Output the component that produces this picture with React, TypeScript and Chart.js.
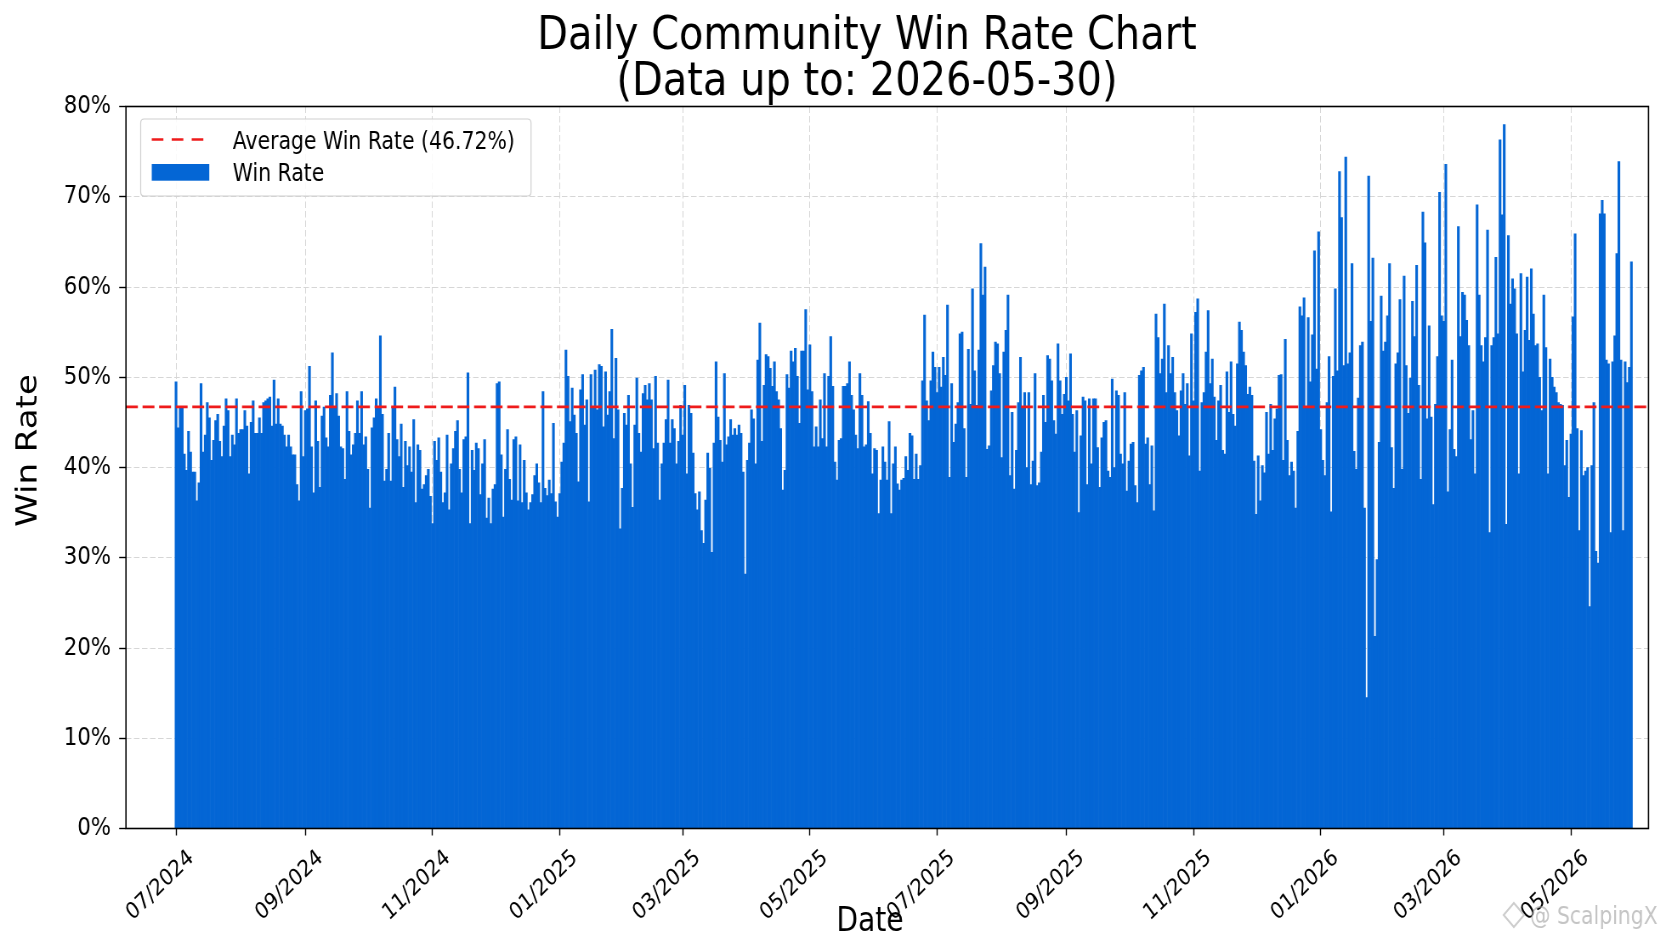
import React, { useEffect, useRef } from 'react';
import { Chart, registerables } from 'chart.js';

Chart.register(...registerables);

// ---------------- data ----------------
const START_DATE = '2024-07-01';
const DATA_END = '2026-05-30';
const AVERAGE_RATE = 46.72;

// daily win rate (%), one value per day from START_DATE
// 2024-07-01 .. 2024-09-26
const winRateJul2024 = [
  49.5, 44.4, 46.7, 46.7, 41.5, 39.7, 44, 41.7, 39.5, 39.5,
  36.3, 38.3, 49.3, 41.7, 43.6, 47.2, 45.5, 40.8, 43, 45.2,
  45.9, 42.9, 41.2, 44.6, 47.6, 46.3, 41.2, 43.6, 42.5, 47.6,
  43.8, 44.2, 44.2, 46.3, 44.6, 39.3, 45, 47.4, 43.8, 43.8,
  45.5, 43.8, 47.2, 47.4, 47.6, 47.8, 44.6, 49.7, 44.8, 47.6,
  44.8, 44.6, 43.6, 42.3, 43.6, 42.3, 41.4, 41.4, 38.1, 36.3,
  48.4, 41.2, 46.3, 46.5, 51.2, 42.3, 37.2, 47.4, 42.9, 37.8,
  45.7, 46.7, 43.3, 42.3, 48, 52.7, 46.7, 48.2, 45.7, 42.3,
  42.1, 38.7, 48.4, 44, 41.4, 42.5, 43.8, 47.4,
];
// 2024-09-27 .. 2024-12-24
const winRateSep2024 = [
  43.8, 48.4, 42.5, 43.4, 39.8, 35.5, 44.4, 45.5, 47.6, 46.7,
  54.6, 45.9, 38.5, 39.8, 43.8, 38.5, 46.7, 48.9, 43.1, 41.2,
  44.8, 37.8, 42.9, 40.2, 42.3, 39.5, 45.3, 36.1, 42.5, 41.9,
  37.6, 38.1, 39.1, 39.8, 36.8, 33.8, 42.9, 40.8, 43.3, 39.5,
  36.1, 37.2, 43.6, 35.3, 40.4, 42.1, 44, 45.2, 39.8, 37.2,
  43.1, 43.4, 50.5, 33.8, 41.9, 39.7, 42.7, 42.1, 37, 40.4,
  43.1, 34.4, 36.6, 33.8, 37.6, 38.1, 49.3, 49.5, 41.4, 34.5,
  39.8, 44.2, 38.7, 36.4, 43.1, 43.4, 36.3, 42.5, 36.1, 40.8,
  37.2, 35.3, 36.1, 37, 39.1, 40.4, 38.3, 36.1, 48.4,
];
// 2024-12-25 .. 2025-03-21
const winRateDec2024 = [
  37.7, 36.9, 38.6, 37.1, 44.9, 36.2, 34.5, 37.1, 40.6, 42.7,
  53, 50.1, 45.1, 48.8, 45.8, 43.8, 38.4, 48.6, 50.3, 44.7,
  47.5, 36.2, 50.3, 46.6, 50.8, 46.4, 51.4, 51.2, 44.5, 50.6,
  45.8, 48.4, 55.3, 43.2, 52.1, 46.4, 33.2, 37.7, 46, 44.7,
  48, 40.4, 35.6, 44.7, 49.9, 43.8, 41.7, 48.2, 49.1, 47.5,
  49.3, 47.5, 42.1, 50.1, 42.7, 36.4, 40.4, 42.7, 45.3, 49.7,
  42.7, 45.3, 44.3, 40.4, 42.9, 46.9, 43.6, 49.1, 39.3, 46.9,
  46, 41.6, 37.1, 35.3, 37.3, 33, 31.6, 36.4, 41.6, 39.9,
  30.6, 42.7, 51.7, 45.6, 43, 40.6, 50.4,
];
// 2025-03-22 .. 2025-06-18
const winRateMar2025 = [
  42.5, 43.4, 45.3, 43.6, 44.3, 43.6, 44.7, 43.8, 39.5, 28.2,
  40.8, 42.7, 46.4, 45.4, 40.4, 51.9, 56, 42.9, 49.1, 52.5,
  52.3, 51, 49, 51.7, 48.4, 47.5, 44.3, 37.5, 39.7, 50.3,
  48.8, 52.9, 51.7, 53.2, 50.1, 44.9, 52.9, 52.9, 57.5, 48.6,
  53.6, 48.4, 42.3, 44.5, 42.3, 47.5, 43.2, 50.4, 42.3, 50.1,
  54.5, 49, 40.6, 38.6, 43, 43.2, 49, 49, 49.3, 51.7,
  48, 46.4, 43.6, 42.1, 50.4, 48, 42.3, 42.5, 47.3, 43.8,
  39.3, 42.1, 41.9, 34.9, 38.6, 42.3, 40.6, 38.6, 45.1, 34.9,
  40.4, 42.3, 38.2, 37.5, 38.6, 38.8, 41.2, 39.7, 43.8,
];
// 2025-06-19 .. 2025-09-14
const winRateJun2025 = [
  43.5, 38.7, 41.5, 38.7, 40.2, 49.6, 56.9, 47.4, 45.2, 49.6,
  52.8, 51.1, 48.3, 51.1, 48.9, 52.2, 50.2, 58, 38.9, 49.3,
  42.8, 44.8, 47.2, 54.8, 55, 44.3, 38.9, 53.1, 47, 59.8,
  50.7, 46.9, 53, 64.8, 59.1, 62.2, 42, 42.4, 48.5, 51.3,
  53.9, 53.7, 50.4, 41.1, 52.8, 55.2, 59.1, 39.1, 46.1, 37.6,
  41.9, 47.2, 52.2, 46.7, 48.3, 40, 48.3, 38.1, 40.7, 50.4,
  38, 38.3, 41.7, 48, 45, 52.4, 52, 49.6, 45.2, 43.7,
  53.7, 49.6, 45.9, 48.1, 50, 47.4, 52.6, 45.9, 41.7, 46.3,
  35, 43.5, 47.8, 47.4, 38.1, 47.6, 40.4, 47.6,
];
// 2025-09-15 .. 2025-12-12
const winRateSep2025 = [
  47.6, 42.2, 37.8, 43.3, 45, 45.2, 39.6, 38.9, 49.8, 40,
  48.5, 48, 41.5, 40.4, 48.3, 37.4, 40.7, 42.6, 42.8, 38,
  36.1, 50.2, 50.7, 51.1, 42.6, 43.3, 38.1, 42.4, 35.2, 57,
  54.4, 50.4, 52, 58.1, 48.3, 53.5, 50.4, 52.2, 48.3, 46.3,
  43.5, 48.5, 50.4, 47, 49.3, 41.3, 54.8, 47.4, 57.2, 58.7,
  39.6, 47.2, 48.3, 52.8, 57.4, 49.3, 52, 47.8, 43, 47.4,
  49.1, 41.9, 41.5, 50.6, 46.1, 51.7, 45.9, 44.6, 51.5, 56.1,
  55.2, 52.8, 51.3, 48.1, 48.9, 48, 40.7, 34.8, 41.3, 36.3,
  40.2, 39.4, 46.1, 41.5, 47, 41.9, 45.4, 46.5, 50.2,
];
// 2025-12-13 .. 2026-03-10
const winRateDec2025 = [
  50.3, 40.8, 54.2, 43, 39.1, 40.6, 39.6, 35.5, 44, 57.8,
  56.8, 58.8, 46.6, 56.6, 49.5, 54.7, 64, 50.9, 66.1, 44.2,
  40.8, 39.1, 47.2, 52.3, 35.1, 50.1, 59.8, 50.7, 72.8, 67.7,
  51.3, 74.4, 51.5, 52.7, 62.6, 41.8, 39.8, 47.7, 53.5, 53.9,
  35.5, 14.5, 72.3, 56.2, 63.2, 21.3, 29.8, 42.8, 59, 52.9,
  53.9, 56.8, 62.6, 42.2, 37.7, 51.5, 52.7, 58.6, 39.8, 61.2,
  51.3, 46, 49.9, 58.4, 54.5, 62.4, 49.1, 38.7, 68.3, 64.9,
  45.4, 55.7, 45.6, 35.9, 47, 52.3, 70.5, 56.8, 56.2, 73.6,
  37.3, 44.2, 51.9, 42, 41.2, 66.7, 54.5, 59.4,
];
// 2026-03-11 .. 2026-05-30
const winRateMar2026 = [
  59.1, 56.3, 53.5, 43.1, 46.3, 39.3, 69.1, 59.1, 53.5, 51.7,
  54.4, 66.3, 32.8, 53.5, 54.4, 63.3, 54.8, 76.3, 68, 78,
  33.7, 65.7, 58.1, 60.9, 59.8, 54.8, 39.3, 61.5, 50.6, 55.2,
  61.1, 54.1, 62, 57, 53.5, 53.7, 50, 46.3, 59.1, 53.3,
  39.3, 52, 50, 48.9, 48.3, 47.2, 47, 46.9, 40.2, 43,
  36.7, 43.7, 56.7, 65.9, 44.3, 33, 44.1, 39.1, 39.6, 40,
  24.6, 40.2, 47.2, 30.7, 29.4, 68.1, 69.6, 68.1, 51.9, 51.5,
  32.8, 51.7, 54.6, 63.7, 73.9, 51.9, 33, 51.7, 49.4, 51.1,
  62.8,
];

const WIN_RATE = [
  ...winRateJul2024, ...winRateSep2024, ...winRateDec2024, ...winRateMar2025,
  ...winRateJun2025, ...winRateSep2025, ...winRateDec2025, ...winRateMar2026,
];

const X_TICK_LABELS = [
  '07/2024', '09/2024', '11/2024', '01/2025', '03/2025', '05/2025',
  '07/2025', '09/2025', '11/2025', '01/2026', '03/2026', '05/2026',
];
const Y_TICK_VALUES = [0, 10, 20, 30, 40, 50, 60, 70, 80];
const Y_TICK_LABELS = ['0%', '10%', '20%', '30%', '40%', '50%', '60%', '70%', '80%'];

// ---------------- layout / style ----------------
const SX = 0.85; // the picture is drawn narrow
const W = Math.round(1672 / SX);
const H = 941;
const PLOT_LEFT = 148.2;
const PLOT_RIGHT = 1939.4;
const PLOT_TOP = 106.5;
const PLOT_BOTTOM = 828.5;
const X_MIN = -24;
const X_MAX = 706.2;

const FONT = '"DejaVu Sans", "Noto Sans", sans-serif';
const BAR_COLOR = '#0466d5';
const AVG_COLOR = '#ee1b1b';
const GRID_COLOR = '#d6d6d6';

const DAY_MS = 86400000;
const startMs = Date.parse(START_DATE);
const dayOf = (label: string) => {
  const [m, y] = label.split('/').map(Number);
  return Math.round((Date.UTC(y, m - 1, 1) - startMs) / DAY_MS);
};
const X_TICK_DAYS = X_TICK_LABELS.map(dayOf);

const TITLE_LINES = ['Daily Community Win Rate Chart', `(Data up to: ${DATA_END})`];
const AVG_LABEL = `Average Win Rate (${AVERAGE_RATE.toFixed(2)}%)`;
const BAR_LABEL = 'Win Rate';

const overlayPlugin = {
  id: 'overlay',
  afterDraw(chart: any) {
    const { ctx, chartArea: a } = chart;
    ctx.save();
    // frame
    ctx.setLineDash([]);
    ctx.strokeStyle = '#000';
    ctx.lineWidth = 1.6;
    ctx.strokeRect(a.left, a.top, a.right - a.left, a.bottom - a.top);

    // legend
    const lx = 165.5, ly = 119, lw = 459.2, lh = 77, r = 4;
    ctx.beginPath();
    ctx.moveTo(lx + r, ly);
    ctx.lineTo(lx + lw - r, ly);
    ctx.quadraticCurveTo(lx + lw, ly, lx + lw, ly + r);
    ctx.lineTo(lx + lw, ly + lh - r);
    ctx.quadraticCurveTo(lx + lw, ly + lh, lx + lw - r, ly + lh);
    ctx.lineTo(lx + r, ly + lh);
    ctx.quadraticCurveTo(lx, ly + lh, lx, ly + lh - r);
    ctx.lineTo(lx, ly + r);
    ctx.quadraticCurveTo(lx, ly, lx + r, ly);
    ctx.closePath();
    ctx.fillStyle = 'rgba(255,255,255,0.85)';
    ctx.fill();
    ctx.strokeStyle = '#cfcfcf';
    ctx.lineWidth = 1.2;
    ctx.stroke();

    const ds = chart.data.datasets;
    ctx.strokeStyle = ds[0].borderColor;
    ctx.lineWidth = 2.6;
    ctx.setLineDash([13.7, 9.8]);
    ctx.beginPath();
    ctx.moveTo(178.5, 139.5);
    ctx.lineTo(241, 139.5);
    ctx.stroke();
    ctx.setLineDash([]);
    ctx.fillStyle = ds[1].backgroundColor;
    ctx.fillRect(178.5, 164, 67.7, 16.7);

    ctx.fillStyle = '#000';
    ctx.font = `24px ${FONT}`;
    ctx.textAlign = 'left';
    ctx.textBaseline = 'alphabetic';
    ctx.fillText(ds[0].label, 273.8, 149.3);
    ctx.fillText(ds[1].label, 273.8, 180.7);

    // title
    ctx.textAlign = 'center';
    ctx.font = `47px ${FONT}`;
    ctx.fillText(TITLE_LINES[0], 1020, 49);
    ctx.fillText(TITLE_LINES[1], 1020, 94.5);

    // axis titles
    ctx.font = `33px ${FONT}`;
    ctx.fillText('Date', 1023.5, 931);
    ctx.save();
    ctx.translate(33.9, 450.5);
    ctx.rotate(-Math.PI / 2);
    ctx.textBaseline = 'middle';
    ctx.font = `34px ${FONT}`;
    ctx.fillText('Win Rate', 0, 0);
    ctx.restore();

    // watermark
    ctx.strokeStyle = 'rgba(170,170,170,0.6)';
    ctx.lineWidth = 2;
    ctx.beginPath();
    ctx.moveTo(1781, 903);
    ctx.lineTo(1793, 915);
    ctx.lineTo(1781, 927);
    ctx.lineTo(1769, 915);
    ctx.closePath();
    ctx.stroke();
    ctx.fillStyle = 'rgba(165,165,165,0.65)';
    ctx.font = `24px ${FONT}`;
    ctx.textAlign = 'left';
    ctx.fillText('@ ScalpingX', 1800, 924);
    ctx.restore();
  },
};

export default function App() {
  const ref = useRef<HTMLCanvasElement | null>(null);

  useEffect(() => {
    if (!ref.current) return;
    const chart = new Chart(ref.current, {
      type: 'bar',
      data: {
        datasets: [
          {
            type: 'line',
            label: AVG_LABEL,
            data: [
              { x: X_MIN, y: AVERAGE_RATE },
              { x: X_MAX, y: AVERAGE_RATE },
            ],
            borderColor: AVG_COLOR,
            borderWidth: 2.6,
            borderDash: [14, 5.5],
            pointRadius: 0,
            fill: false,
            order: 0,
          } as any,
          {
            type: 'bar',
            label: BAR_LABEL,
            data: WIN_RATE.map((v, i) => ({ x: i, y: v })),
            backgroundColor: BAR_COLOR,
            borderWidth: 0,
            barPercentage: 1,
            categoryPercentage: 1,
            order: 1,
          } as any,
        ],
      },
      options: {
        responsive: false,
        animation: false,
        devicePixelRatio: 1,
        layout: { padding: { left: 0, right: W - PLOT_RIGHT, top: PLOT_TOP, bottom: 0 } },
        plugins: {
          legend: { display: false },
          tooltip: { enabled: false },
          title: { display: false },
        },
        scales: {
          x: {
            type: 'linear',
            min: X_MIN,
            max: X_MAX,
            offset: false,
            afterBuildTicks: (s: any) => {
              s.ticks = X_TICK_DAYS.map((v) => ({ value: v }));
            },
            afterFit: (s: any) => {
              s.height = H - PLOT_BOTTOM;
            },
            ticks: {
              autoSkip: false,
              minRotation: 40,
              maxRotation: 40,
              padding: 9,
              labelOffset: 18,
              color: '#000',
              font: { family: FONT, size: 23 },
              callback: (_v: any, i: number) => X_TICK_LABELS[i],
            },
            grid: {
              offset: false,
              color: GRID_COLOR,
              lineWidth: 1,
              drawTicks: true,
              tickLength: 7,
              tickColor: '#000',
              tickWidth: 1.4,
              tickBorderDash: [],
            },
            border: { display: false, dash: [6.5, 3] },
          },
          y: {
            min: 0,
            max: 80,
            afterBuildTicks: (s: any) => {
              s.ticks = Y_TICK_VALUES.map((v) => ({ value: v }));
            },
            afterFit: (s: any) => {
              s.width = PLOT_LEFT;
            },
            ticks: {
              padding: 9.6,
              color: '#000',
              font: { family: FONT, size: 25 },
              callback: (_v: any, i: number) => Y_TICK_LABELS[i],
            },
            grid: {
              color: GRID_COLOR,
              lineWidth: 1,
              drawTicks: true,
              tickLength: 8,
              tickColor: '#000',
              tickWidth: 1.4,
              tickBorderDash: [],
            },
            border: { display: false, dash: [6.5, 3] },
          },
        },
      } as any,
      plugins: [overlayPlugin],
    });
    return () => chart.destroy();
  }, []);

  return (
    <div
      style={{
        position: 'fixed',
        left: 0,
        top: 0,
        width: 1672,
        height: H,
        overflow: 'hidden',
        background: '#fff',
      }}
    >
      <div style={{ width: W, height: H, transform: `scaleX(${SX})`, transformOrigin: '0 0' }}>
        <canvas ref={ref} width={W} height={H} style={{ display: 'block' }} />
      </div>
    </div>
  );
}
